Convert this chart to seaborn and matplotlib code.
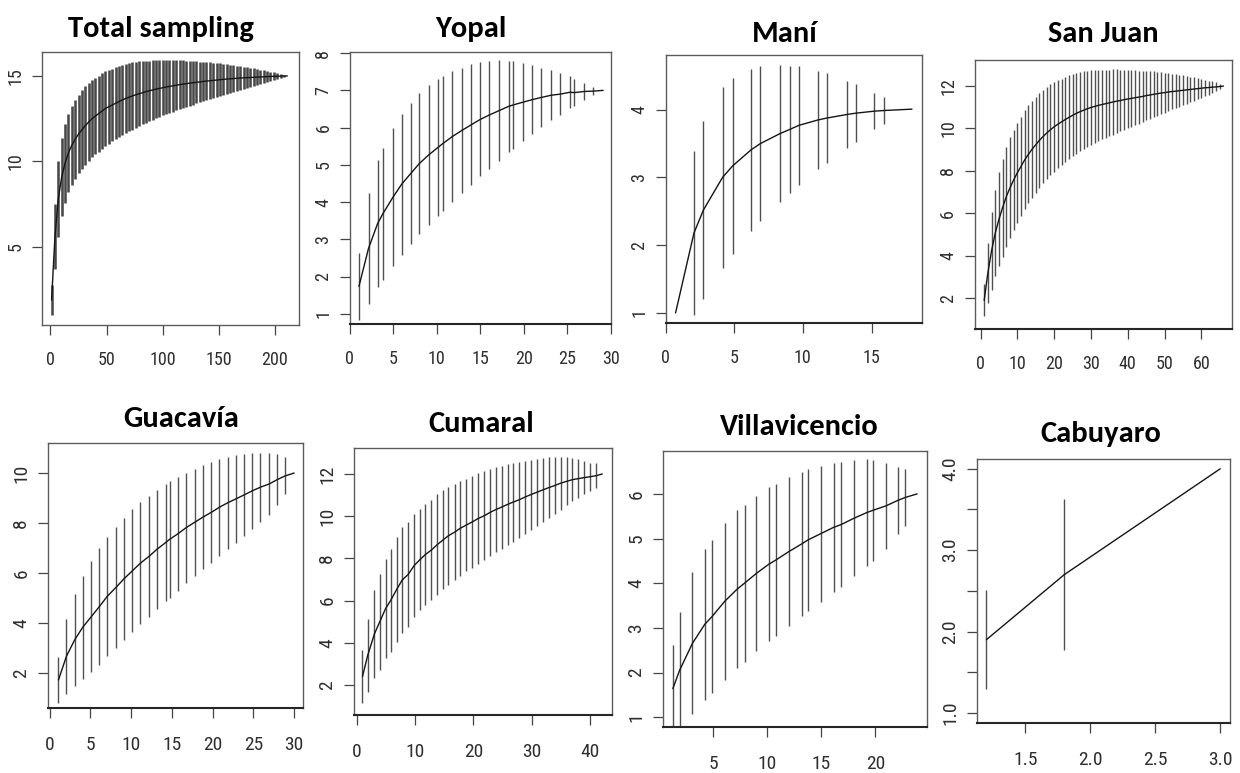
"""
Species accumulation curves (richness vs sites) for the total sampling and
seven localities, drawn as line + vertical confidence bars in R style.
"""

import numpy as np
import pandas as pd
import matplotlib
matplotlib.use('Agg')
import matplotlib.pyplot as plt
from matplotlib import font_manager as fm
import seaborn as sns
import logging
logging.getLogger('matplotlib.font_manager').setLevel(logging.ERROR)


def first_font(cands):
    for c in cands:
        try:
            fm.findfont(fm.FontProperties(family=c), fallback_to_default=False)
            return c
        except ValueError:
            continue
    return 'DejaVu Sans'


sns.set_theme(style='ticks')
TICK_FONT = first_font(['Liberation Sans Narrow', 'Arial Narrow', 'Roboto Condensed',
                        'Sofia Sans Semi Condensed', 'Liberation Sans'])
TITLE_FONT = [first_font(['Carlito', 'Lato', 'Open Sans']), 'DejaVu Sans']
plt.rcParams['font.family'] = [TICK_FONT, 'DejaVu Sans']

# ── Data ─────────────────────────────────────────────────────────────────
# Total sampling (one bar every third site)
total_sites = list(range(1, 212, 3))
total_rich = [1.9, 5.6, 7.8, 9.1, 9.9, 10.5, 10.95, 11.3, 11.6, 11.85,
              12.1, 12.3, 12.5, 12.65, 12.8, 12.95, 13.1, 13.2, 13.3, 13.4,
              13.5, 13.6, 13.68, 13.76, 13.83, 13.9, 13.96, 14.02, 14.08, 14.13,
              14.18, 14.23, 14.27, 14.31, 14.35, 14.39, 14.42, 14.46, 14.49, 14.52,
              14.55, 14.58, 14.6, 14.63, 14.65, 14.68, 14.7, 14.72, 14.74, 14.76,
              14.78, 14.8, 14.82, 14.83, 14.85, 14.86, 14.88, 14.89, 14.9, 14.91,
              14.92, 14.93, 14.94, 14.95, 14.96, 14.97, 14.98, 14.98, 14.99, 15.0, 15.0]
total_ci = [0.9, 1.9, 2.2, 2.3, 2.3, 2.3, 2.3, 2.3, 2.3, 2.3,
            2.3, 2.28, 2.26, 2.24, 2.22, 2.2, 2.17, 2.15, 2.13, 2.11,
            2.09, 2.06, 2.03, 2.0, 1.97, 1.93, 1.89, 1.85, 1.81, 1.77,
            1.73, 1.69, 1.65, 1.62, 1.58, 1.54, 1.5, 1.46, 1.43, 1.39,
            1.35, 1.31, 1.27, 1.23, 1.19, 1.15, 1.11, 1.07, 1.03, 0.99,
            0.95, 0.91, 0.87, 0.83, 0.78, 0.74, 0.69, 0.65, 0.61, 0.57,
            0.52, 0.48, 0.43, 0.39, 0.34, 0.29, 0.24, 0.18, 0.12, 0.06, 0.0]

yopal_sites = [1.05, 2.15, 3.2, 3.8, 4.95, 5.95, 7.0, 8.0, 9.07, 10.08,
               10.67, 11.77, 12.83, 13.97, 14.98, 16.03, 17.18, 18.23, 18.78, 19.84,
               20.93, 21.99, 23.13, 24.19, 25.29, 25.79, 26.89, 27.94, 29.1]
yopal_rich = [1.74, 2.76, 3.43, 3.69, 4.13, 4.48, 4.77, 5.04, 5.27, 5.46,
              5.57, 5.76, 5.92, 6.08, 6.22, 6.34, 6.46, 6.57, 6.61, 6.68,
              6.75, 6.81, 6.87, 6.9, 6.95, 6.94, 6.97, 6.98, 7.0]
yopal_ci = [0.89, 1.48, 1.71, 1.77, 1.85, 1.89, 1.9, 1.9, 1.88, 1.84,
            1.82, 1.76, 1.68, 1.63, 1.53, 1.45, 1.35, 1.23, 1.18, 1.05,
            0.93, 0.8, 0.67, 0.56, 0.43, 0.36, 0.23, 0.1, 0.0]

mani_sites = [0.72, 2.06, 2.75, 4.14, 4.87, 6.23, 6.89, 8.34, 9.04, 9.7,
              11.09, 11.79, 13.18, 13.84, 15.2, 15.93, 17.95]
mani_rich = [1.0, 2.18, 2.52, 3.0, 3.17, 3.41, 3.5, 3.65, 3.71, 3.77,
             3.85, 3.88, 3.93, 3.95, 3.98, 3.99, 4.01]
mani_ci = [0.0, 1.21, 1.31, 1.33, 1.3, 1.2, 1.15, 1.01, 0.94, 0.88,
           0.73, 0.66, 0.5, 0.43, 0.27, 0.2, 0.0]

sanjuan_sites = list(range(1, 67))
sanjuan_rich = [1.89, 3.19, 4.23, 5.06, 5.71, 6.27, 6.78, 7.2, 7.57, 7.91,
                8.21, 8.52, 8.78, 9.02, 9.23, 9.44, 9.62, 9.79, 9.94, 10.08,
                10.2, 10.31, 10.42, 10.52, 10.62, 10.71, 10.79, 10.86, 10.93, 10.99,
                11.04, 11.09, 11.13, 11.17, 11.21, 11.25, 11.29, 11.32, 11.36, 11.39,
                11.42, 11.45, 11.48, 11.51, 11.55, 11.58, 11.61, 11.64, 11.67, 11.69,
                11.72, 11.74, 11.76, 11.78, 11.8, 11.82, 11.84, 11.86, 11.88, 11.9,
                11.92, 11.93, 11.95, 11.96, 11.98, 12.0]
sanjuan_ci = [0.75, 1.43, 1.84, 2.04, 2.22, 2.31, 2.35, 2.38, 2.36, 2.35,
              2.34, 2.34, 2.31, 2.29, 2.26, 2.24, 2.21, 2.18, 2.14, 2.11,
              2.08, 2.04, 2.01, 1.98, 1.94, 1.9, 1.86, 1.83, 1.79, 1.76,
              1.72, 1.68, 1.65, 1.61, 1.57, 1.54, 1.5, 1.46, 1.42, 1.38,
              1.33, 1.29, 1.25, 1.21, 1.16, 1.12, 1.08, 1.04, 0.99, 0.94,
              0.89, 0.84, 0.8, 0.75, 0.7, 0.65, 0.6, 0.55, 0.5, 0.45,
              0.39, 0.33, 0.27, 0.21, 0.14, 0.0]

guacavia_sites = [1.07, 2.05, 3.07, 4.05, 5.12, 6.1, 7.07, 8.15, 9.12, 10.15,
                  11.12, 12.2, 13.17, 14.24, 14.73, 15.7, 16.73, 17.8, 18.78, 19.85,
                  20.83, 21.85, 22.83, 23.9, 24.88, 25.85, 26.93, 27.9, 28.88, 30.0]
guacavia_rich = [1.72, 2.67, 3.33, 3.83, 4.26, 4.66, 5.07, 5.43, 5.77, 6.09,
                 6.39, 6.67, 6.95, 7.22, 7.35, 7.56, 7.81, 8.03, 8.23, 8.43,
                 8.63, 8.81, 8.96, 9.13, 9.29, 9.43, 9.56, 9.73, 9.88, 10.0]
guacavia_ci = [0.92, 1.51, 1.83, 2.07, 2.22, 2.33, 2.38, 2.43, 2.44, 2.46,
               2.44, 2.41, 2.39, 2.34, 2.33, 2.28, 2.2, 2.15, 2.08, 2.02,
               1.94, 1.83, 1.74, 1.64, 1.51, 1.38, 1.25, 1.02, 0.74, 0.0]

cumaral_sites = [1.02, 1.9, 3.06, 3.95, 4.97, 5.85, 6.87, 7.82, 8.84, 9.86,
                 10.88, 11.77, 12.79, 13.8, 14.83, 15.71, 16.87, 17.76, 18.78, 19.8,
                 20.82, 21.84, 22.79, 23.8, 24.83, 25.85, 26.73, 27.76, 28.78, 29.8,
                 30.82, 31.84, 32.86, 33.88, 34.9, 35.92, 36.94, 37.96, 38.98, 40.0,
                 41.02, 42.04]
cumaral_rich = [2.4, 3.39, 4.42, 4.98, 5.62, 6.01, 6.53, 6.98, 7.24, 7.66,
                7.95, 8.18, 8.39, 8.65, 8.88, 9.07, 9.26, 9.43, 9.58, 9.73,
                9.89, 10.02, 10.17, 10.31, 10.43, 10.56, 10.66, 10.77, 10.9, 11.02,
                11.13, 11.24, 11.35, 11.45, 11.56, 11.65, 11.73, 11.78, 11.83, 11.87,
                11.92, 12.0]
cumaral_ci = [1.24, 1.74, 2.07, 2.27, 2.35, 2.43, 2.47, 2.5, 2.47, 2.45,
              2.39, 2.41, 2.36, 2.38, 2.34, 2.32, 2.28, 2.26, 2.2, 2.19,
              2.16, 2.12, 2.08, 2.03, 1.97, 1.91, 1.86, 1.81, 1.73, 1.66,
              1.58, 1.52, 1.44, 1.35, 1.25, 1.14, 1.03, 0.93, 0.8, 0.67,
              0.58, 0.0]

villa_sites = [1.24, 1.87, 3.05, 4.2, 4.9, 6.03, 7.21, 7.88, 8.98, 10.16,
               10.79, 12.0, 13.18, 13.77, 14.95, 16.13, 16.8, 17.98, 19.19, 19.75,
               20.96, 22.14, 22.77, 23.87]
villa_rich = [1.64, 2.05, 2.65, 3.08, 3.26, 3.59, 3.87, 4.0, 4.22, 4.43,
              4.52, 4.71, 4.88, 4.97, 5.11, 5.25, 5.31, 5.45, 5.58, 5.63,
              5.73, 5.86, 5.92, 6.0]
villa_ci = [0.97, 1.31, 1.59, 1.69, 1.71, 1.75, 1.76, 1.76, 1.74, 1.72,
            1.71, 1.67, 1.62, 1.59, 1.52, 1.44, 1.4, 1.3, 1.19, 1.13,
            0.97, 0.75, 0.63, 0.0]

cabuyaro_sites = [1.2, 1.8, 3.0]
cabuyaro_rich = [1.9, 2.7, 4.0]
cabuyaro_ci = [0.61, 0.93, 0.0]

# ── Panel layout (pixel boxes of the original) ───────────────────────────
PANELS = [
    dict(name='Total sampling', data=(total_sites, total_rich, total_ci),
         box=(41.7, 299, 52, 325), title=(161, 37),
         xlim=(-7.8, 221.4), ylim=(0.44, 16.4),
         xticks=[0, 50, 100, 150, 200], yticks=[5, 10, 15], row=0, dense=True),
    dict(name='Yopal', data=(yopal_sites, yopal_rich, yopal_ci),
         box=(349.8, 611, 52, 324), title=(471, 37),
         xlim=(0, 30), ylim=(0.73, 8.03),
         xticks=[0, 5, 10, 15, 20, 25, 30], yticks=[1, 2, 3, 4, 5, 6, 7, 8], row=0),
    dict(name='Maní', data=(mani_sites, mani_rich, mani_ci),
         box=(665.7, 922, 55, 323), title=(785, 42),
         xlim=(0, 18.68), ylim=(0.85, 4.81),
         xticks=[0, 5, 10, 15], yticks=[1, 2, 3, 4], row=0),
    dict(name='San Juan', data=(sanjuan_sites, sanjuan_rich, sanjuan_ci),
         box=(974.5, 1232, 60, 329), title=(1103, 42),
         xlim=(-1.63, 68.3), ylim=(0.54, 13.23),
         xticks=[0, 10, 20, 30, 40, 50, 60], yticks=[2, 4, 6, 8, 10, 12], row=0),
    dict(name='Guacavía', data=(guacavia_sites, guacavia_rich, guacavia_ci),
         box=(47.7, 302.9, 443, 708), title=(181, 427),
         xlim=(-0.25, 31.08), ylim=(0.6, 11.2),
         xticks=[0, 5, 10, 15, 20, 25, 30], yticks=[2, 4, 6, 8, 10], row=1),
    dict(name='Cumaral', data=(cumaral_sites, cumaral_rich, cumaral_ci),
         box=(353.7, 612, 448, 715), title=(481, 432),
         xlim=(-0.48, 43.7), ylim=(0.58, 13.23),
         xticks=[0, 10, 20, 30, 40], yticks=[2, 4, 6, 8, 10, 12], row=1),
    dict(name='Villavicencio', data=(villa_sites, villa_rich, villa_ci),
         box=(662.9, 927.2, 451, 727), title=(799, 435),
         xlim=(0.32, 24.8), ylim=(0.78, 6.96),
         xticks=[5, 10, 15, 20], yticks=[1, 2, 3, 4, 5, 6], row=1),
    dict(name='Cabuyaro', data=(cabuyaro_sites, cabuyaro_rich, cabuyaro_ci),
         box=(976.5, 1230, 459, 723), title=(1101, 442),
         xlim=(1.124, 3.075), ylim=(0.877, 4.12),
         xticks=[1.5, 2.0, 2.5, 3.0], yticks=[1.0, 1.5, 2.0, 2.5, 3.0, 3.5, 4.0],
         ylabels=['1.0', '', '2.0', '', '3.0', '', '4.0'], row=1),
]

W, H = 1240, 773
fig = plt.figure(figsize=(W / 100, H / 100), dpi=100)
fig.patch.set_facecolor('white')

XPAD = {0: 11.0, 1: 13.0}
LABEL_SIZE = {0: 13.0, 1: 14.0}

for p in PANELS:
    x0, x1, y0, y1 = p['box']
    ax = fig.add_axes([x0 / W, 1 - y1 / H, (x1 - x0) / W, (y1 - y0) / H])
    ax.set_facecolor('white')

    sites, rich, ci = p['data']
    df = pd.DataFrame({'sites': sites, 'richness': rich, 'ci': ci})

    if p.get('dense'):
        bar_kw = dict(color='#484848', lw=1.85)
    else:
        bar_kw = dict(color='#505050', lw=1.0)
    ax.vlines(df['sites'], df['richness'] - df['ci'], df['richness'] + df['ci'], **bar_kw)
    sns.lineplot(data=df, x='sites', y='richness', ax=ax, color='#151515',
                 lw=1.0, estimator=None, sort=False)

    ax.set_xlim(*p['xlim'])
    ax.set_ylim(*p['ylim'])
    ax.set_xlabel('')
    ax.set_ylabel('')

    ax.set_xticks(p['xticks'])
    ax.set_xticklabels([f'{t:.1f}' if isinstance(t, float) else f'{t}'
                        for t in p['xticks']], family=TICK_FONT)
    ax.set_yticks(p['yticks'])
    ylabels = p.get('ylabels', [f'{t:g}' for t in p['yticks']])
    ax.set_yticklabels(ylabels, rotation=90, va='center', family=TICK_FONT)

    ax.tick_params(axis='both', direction='out', length=7.5, width=0.9,
                   color='#444444', labelcolor='#2e2e2e',
                   labelsize=LABEL_SIZE[p['row']],
                   bottom=True, left=True, top=False, right=False)
    ax.tick_params(axis='x', pad=XPAD[p['row']])
    ax.tick_params(axis='y', pad=5)

    for sp in ax.spines.values():
        sp.set_color('#5c5c5c')
        sp.set_linewidth(1.0)
    if not p.get('dense'):
        ax.spines['bottom'].set_color('#262626')
        ax.spines['bottom'].set_linewidth(1.5)

    cx, base = p['title']
    fig.text(cx / W, 1 - base / H, p['name'], ha='center', va='baseline',
             fontsize=22, fontweight='bold', family=TITLE_FONT, color='black')

fig.savefig('out.png', dpi=100, facecolor='white')
plt.close(fig)
